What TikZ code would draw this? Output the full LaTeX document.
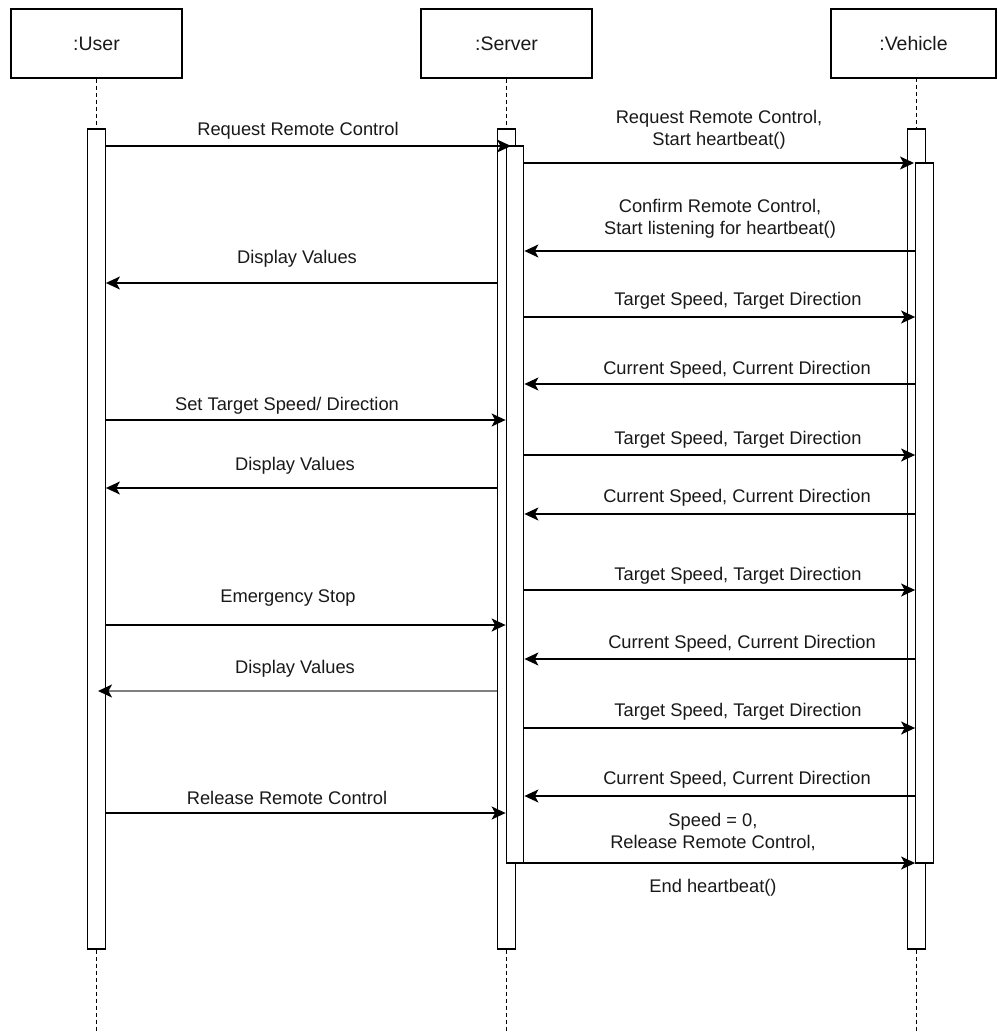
\documentclass[tikz,border=0pt]{standalone}
\usepackage{fontspec}
\setmainfont{Liberation Sans}
\usetikzlibrary{arrows.meta}
\begin{document}
\begin{tikzpicture}[x=1pt,y=-1pt,
  head/.style={draw=black,line width=1.3pt,minimum height=69pt,inner sep=0pt,font=\fontsize{19.5}{23}\selectfont,text=black!90},
  bar/.style={draw=black,fill=white,line width=1.3pt,minimum width=17.5pt,inner sep=0pt},
  life/.style={line width=1.1pt,dash pattern=on 4pt off 3pt},
  msg/.style={line width=1.4pt,-{Stealth[length=14pt,width=13pt,inset=3.5pt]}},
  lbl/.style={font=\fontsize{18.3}{22}\selectfont,text=black!90,align=center,inner sep=0pt}]
\useasboundingbox[fill=white] (0,0) rectangle (997,1033);
% headers
\node[head,minimum width=171pt] (user) at (96.5,43.5) {:User};
\node[head,minimum width=171pt] (server) at (506.5,43.5) {:Server};
\node[head,minimum width=165pt] (vehicle) at (913.5,43.5) {:Vehicle};
% outer bars
\node[bar,minimum height=820pt] (ubar) at (96.5,539) {};
\node[bar,minimum height=820pt] (sout) at (506.5,539) {};
\node[bar,minimum height=820pt] (vout) at (916.5,539) {};
% inner bars
\node[bar,minimum height=717pt] (sin) at (515,504.5) {};
\node[bar,minimum height=700pt] (vin) at (924.5,513) {};
% lifelines
\coordinate (bot) at (0,1033);
\draw[life] (user.south) -- (ubar.north);
\draw[life] (ubar.south) -- (ubar.south |- bot);
\draw[life] (server.south) -- (sout.north);
\draw[life] (sout.south) -- (sout.south |- bot);
\draw[life] (916.5,78) coordinate (vtop) -- (vout.north);
\draw[life] (vout.south) -- (vout.south |- bot);
% message rows
\coordinate (y1) at (511,146);
\coordinate (y2) at (914,163);
\coordinate (y3) at (0,251);
\coordinate (y4) at (0,283);
\coordinate (y5) at (0,317);
\coordinate (y6) at (0,384);
\coordinate (y7) at (0,420);
\coordinate (y8) at (0,455);
\coordinate (y9) at (0,488);
\coordinate (y10) at (0,514);
\coordinate (y11) at (0,590);
\coordinate (y12) at (0,625);
\coordinate (y13) at (0,659);
\coordinate (y14) at (98,691);
\coordinate (y15) at (0,728);
\coordinate (y16) at (0,796);
\coordinate (y17) at (0,813);
\coordinate (y18) at (0,863);
% messages
\draw[msg] (ubar.east |- y1) -- (y1);
\draw[msg] (sin.east |- y2) -- (y2);
\draw[msg] (vin.west |- y3) -- (sin.east |- y3);
\draw[msg] (sout.west |- y4) -- (ubar.east |- y4);
\draw[msg] (sin.east |- y5) -- (vin.west |- y5);
\draw[msg] (vin.west |- y6) -- (sin.east |- y6);
\draw[msg] (ubar.east |- y7) -- (sin.west |- y7);
\draw[msg] (sin.east |- y8) -- (vin.west |- y8);
\draw[msg] (sout.west |- y9) -- (ubar.east |- y9);
\draw[msg] (vin.west |- y10) -- (sin.east |- y10);
\draw[msg] (sin.east |- y11) -- (vin.west |- y11);
\draw[msg] (ubar.east |- y12) -- (sin.west |- y12);
\draw[msg] (vin.west |- y13) -- (sin.east |- y13);
\draw[line width=1.8pt,draw=black!50,-{Stealth[length=14pt,width=13pt,inset=3.5pt,color=black]}] (sout.west |- y14) -- (y14);
\draw[msg] (sin.east |- y15) -- (vin.west |- y15);
\draw[msg] (vin.west |- y16) -- (sin.east |- y16);
\draw[msg] (ubar.east |- y17) -- (sin.west |- y17);
\draw[msg] (sin.west |- y18) -- (vin.west |- y18);
% labels
\node[lbl] (l1) at (298,131) {Request Remote Control};
\node[lbl] (l2) at (719,130) {Request Remote Control,\\Start heartbeat()};
\node[lbl] (l3) at (720,219) {Confirm Remote Control,\\Start listening for heartbeat()};
\node[lbl] (l4) at (297,259) {Display Values};
\node[lbl] (l5) at (738,301) {Target Speed, Target Direction};
\node[lbl] (l6) at (737,370) {Current Speed, Current Direction};
\node[lbl] (l7) at (287,406) {Set Target Speed/ Direction};
\node[lbl] (l8) at (738,440) {Target Speed, Target Direction};
\node[lbl] (l9) at (295,466) {Display Values};
\node[lbl] (l10) at (737,498) {Current Speed, Current Direction};
\node[lbl] (l11) at (738,576) {Target Speed, Target Direction};
\node[lbl] (l12) at (288,598) {Emergency Stop};
\node[lbl] (l13) at (742,644) {Current Speed, Current Direction};
\node[lbl] (l14) at (295,669) {Display Values};
\node[lbl] (l15) at (738,712) {Target Speed, Target Direction};
\node[lbl] (l16) at (737,780) {Current Speed, Current Direction};
\node[lbl] (l17) at (287,798) {Release Remote Control};
\node[lbl] (l18) at (713,855) {Speed = 0,\\Release Remote Control,\\\strut\\End heartbeat()};
\end{tikzpicture}
\end{document}
